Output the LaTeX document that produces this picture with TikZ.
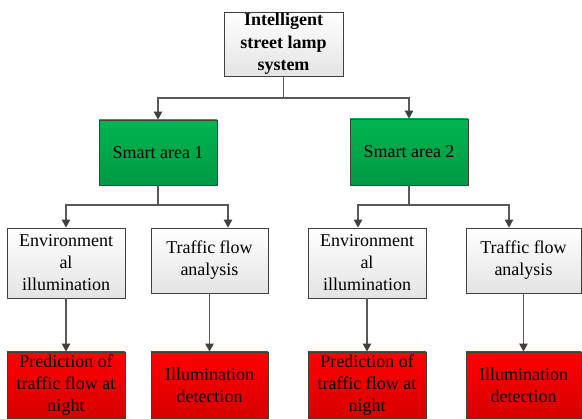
\documentclass[tikz,border=0pt]{standalone}
\usepackage{fontspec}
\setmainfont{Liberation Serif}
\usetikzlibrary{arrows.meta,calc}
\definecolor{lnc}{HTML}{595959}
\definecolor{bdc}{HTML}{404040}
\definecolor{gtop}{HTML}{00B451}
\definecolor{gbot}{HTML}{009A44}
\definecolor{rtop}{HTML}{FF0000}
\definecolor{rbot}{HTML}{D80000}
\definecolor{wtop}{HTML}{FFFFFF}
\definecolor{wbot}{HTML}{E4E4E4}
\tikzset{
  base/.style={draw=bdc, line width=0.9pt, inner sep=0pt, align=center,
    font=\fontsize{18}{22}\selectfont},
  graybox/.style={base, top color=wtop, bottom color=wbot},
  greenbox/.style={base, top color=gtop, bottom color=gbot},
  redbox/.style={base, top color=rtop, bottom color=rbot},
  conn/.style={draw=lnc, line width=1.1pt},
  arr/.style={conn, -{Triangle[length=8pt,width=8.5pt,fill=bdc,color=bdc]}},
}
\begin{document}
\begin{tikzpicture}[x=1pt,y=-1pt]
\useasboundingbox (0,0) rectangle (582,419);
\fill[white] (0,0) rectangle (582,419);
% top
\node[graybox, minimum width=119pt, minimum height=64pt, font=\fontsize{18}{22.5}\selectfont\bfseries] (top) at (283.5,44) {Intelligent\\street lamp\\system};
% smart areas
\node[greenbox, minimum width=118pt, minimum height=65pt] (sa1) at (158,152.5) {Smart area 1};
\node[greenbox, minimum width=118pt, minimum height=66pt] (sa2) at (409,152) {Smart area 2};
% level 3
\node[graybox, minimum width=118pt, minimum height=70pt] (env1) at (66,263) {Environment\\al\\illumination};
\node[graybox, minimum width=117pt, minimum height=65pt] (tr1) at (209.5,260.5) {Traffic flow\\analysis};
\node[graybox, minimum width=118pt, minimum height=70pt] (env2) at (367,263) {Environment\\al\\illumination};
\node[graybox, minimum width=115pt, minimum height=65pt] (tr2) at (523.5,260.5) {Traffic flow\\analysis};
% level 4
\node[redbox, minimum width=118pt, minimum height=66pt] (pr1) at (66,385) {Prediction of\\traffic flow at\\night};
\node[redbox, minimum width=117pt, minimum height=66pt] (il1) at (209.5,385) {Illumination\\detection};
\node[redbox, minimum width=118pt, minimum height=66pt] (pr2) at (367,385) {Prediction of\\traffic flow at\\night};
\node[redbox, minimum width=115pt, minimum height=66pt] (il2) at (523.5,385) {Illumination\\detection};
% junctions
\coordinate (j0) at (283.5,98);
\coordinate (j1) at (158,205);
\coordinate (j2) at (409,205);
% connectors
\draw[conn] (top.south) -- (j0);
\draw[arr] (j0) -| (sa1.north);
\draw[arr] (j0) -| (sa2.north);
\draw[conn] (sa1.south) -- (j1);
\draw[arr] (j1) -| (env1.north);
\draw[arr] (j1) -| ([xshift=18.5pt]tr1.north);
\draw[conn] (sa2.south) -- (j2);
\draw[arr] (j2) -| ([xshift=-9pt]env2.north);
\draw[arr] (j2) -| ([xshift=-14.5pt]tr2.north);
\draw[arr] (env1.south) -- (pr1.north);
\draw[arr] (tr1.south) -- (il1.north);
\draw[arr] (env2.south) -- (pr2.north);
\draw[arr] (tr2.south) -- (il2.north);
\end{tikzpicture}
\end{document}
